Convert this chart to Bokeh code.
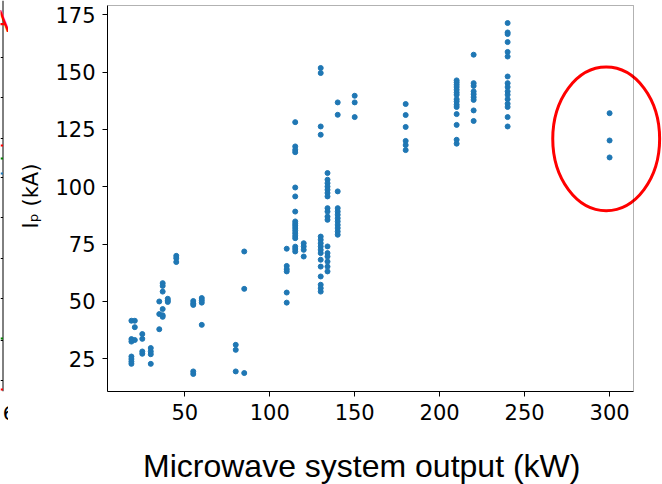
from bokeh.plotting import figure
from bokeh.models import Range1d, BoxAnnotation, FixedTicker, Div
from bokeh.layouts import row, column
from bokeh.embed import file_html
from bokeh.resources import INLINE

# ---- data ----
power_levels_kw = [18.6, 20.6, 25, 30, 35, 37, 40, 45, 55, 60, 80, 85, 110, 115,
                   120, 130, 134, 140, 150, 180, 210, 220, 240, 300]
ip_ka_by_level = [
    [41.6, 33.6, 32.5, 26.0, 24.9, 23.8, 22.8],
    [41.6, 38.8, 33.2],
    [35.8, 33.7, 28.2, 27.2],
    [29.7, 28.2, 27.0, 22.8],
    [50.0, 44.5, 37.9],
    [58.0, 56.8, 54.3, 46.7, 44.0, 43.3],
    [51.2, 50.4, 49.8],
    [69.9, 68.9, 67.2],
    [50.2, 49.2, 48.5, 19.5, 18.4],
    [51.5, 50.5, 49.5, 39.8],
    [31.1, 28.9, 19.5],
    [71.8, 55.5, 18.8],
    [73.0, 65.5, 64.1, 63.1, 53.9, 49.5],
    [128.2, 117.6, 116.1, 115.1, 99.7, 95.8, 89.2, 84.9, 83.9, 83.0, 82.0, 80.9,
     79.8, 78.6, 77.6, 73.9, 72.9, 71.8],
    [75.4, 74.0, 72.5, 69.6],
    [151.8, 149.6, 126.3, 122.7, 78.3, 76.9, 75.4, 74.0, 72.5, 71.1, 68.2, 65.2,
     60.9, 57.3, 55.8, 54.3],
    [106.0, 103.1, 101.6, 100.1, 98.7, 97.3, 95.8, 90.7, 89.2, 87.0, 85.6, 74.0,
     71.1, 69.6, 67.4, 65.2, 63.1],
    [136.8, 131.4, 98.0, 90.7, 89.2, 87.8, 86.3, 84.9, 83.4, 82.0, 80.5, 79.1],
    [139.7, 136.8, 130.4],
    [136.1, 131.3, 126.1, 120.0, 118.2, 116.0],
    [146.4, 145.5, 144.5, 143.5, 142.3, 141.1, 140.1, 138.2, 137.2, 135.8, 134.8,
     131.7, 127.0, 120.5, 118.8],
    [157.6, 145.2, 144.0, 141.6, 140.4, 139.1, 137.9, 133.3, 128.7],
    [171.4, 167.3, 166.6, 163.1, 158.8, 156.8, 148.1, 145.2, 143.5, 141.6, 140.1,
     138.2, 136.2, 134.8, 130.4, 126.3],
    [132.1, 120.2, 112.8],
]
x_ticks = [50, 100, 150, 200, 250, 300]
y_ticks = [25, 50, 75, 100, 125, 150, 175]
outlier_power_kw = 298.0
outlier_ip_ka = 120.9
caption = "Microwave system output (kW)"

power_kw = [p for p, vals in zip(power_levels_kw, ip_ka_by_level) for _ in vals]
ip_ka = [v for vals in ip_ka_by_level for v in vals]

# matplotlib-like 5% margins define the axes box
xmin, xmax = min(power_kw), max(power_kw)
ymin, ymax = min(ip_ka), max(ip_ka)
bx0, bx1 = xmin - 0.05 * (xmax - xmin), xmax + 0.05 * (xmax - xmin)
by0, by1 = ymin - 0.05 * (ymax - ymin), ymax + 0.05 * (ymax - ymin)

# pixel geometry of the box inside the page
box_left_px, box_right_px, box_top_px, box_bottom_px = 107, 633, 5, 391
page_w, page_h = 662, 484
plot_h = 440
left_strip = 8
sx = (box_right_px - box_left_px) / (bx1 - bx0)
sy = (box_bottom_px - box_top_px) / (by1 - by0)
x_end = bx1 + (page_w - box_right_px) / sx
y_end = by1 + box_top_px / sy

p = figure(width=page_w - left_strip, height=plot_h,
           x_range=Range1d(bx0, x_end), y_range=Range1d(by0, y_end),
           output_backend="svg", toolbar_location=None,
           min_border_left=box_left_px - left_strip, min_border_right=0,
           min_border_top=0, min_border_bottom=plot_h - box_bottom_px)
p.outline_line_color = None
p.grid.visible = False
p.background_fill_color = "white"
p.border_fill_color = "white"

p.scatter(power_kw, ip_ka, size=5, color="#1f77b4", line_color="#1f77b4")

p.add_layout(BoxAnnotation(left=bx0, right=bx1, bottom=by0, top=by1,
                           fill_alpha=0, line_color="black", line_width=1,
                           level="overlay"))

p.ellipse(x=[outlier_power_kw], y=[outlier_ip_ka], width=62.9, height=62.7,
          fill_alpha=0, line_color="red", line_width=3)

for ax, ticks, b in ((p.xaxis, x_ticks, (bx0, bx1)), (p.yaxis, y_ticks, (by0, by1))):
    ax.ticker = FixedTicker(ticks=ticks)
    ax.bounds = b
    ax.axis_line_color = "black"
    ax.major_tick_line_color = "black"
    ax.major_tick_out = 5
    ax.major_tick_in = 0
    ax.minor_tick_line_color = None
    ax.major_label_text_font = "DejaVu Sans"
    ax.major_label_text_font_size = "21px"
    ax.major_label_text_color = "black"
    ax.major_label_standoff = 7

p.yaxis.axis_label = "Iₚ (kA)"
p.yaxis.axis_label_text_font = "DejaVu Sans"
p.yaxis.axis_label_text_font_size = "21px"
p.yaxis.axis_label_text_font_style = "normal"
p.yaxis.axis_label_text_color = "black"
p.yaxis.axis_label_standoff = 9

# fragment of the neighbouring panel on the far left (its frame is aligned
# with the main frame by the row layout: 0..391 px)
lf = figure(width=left_strip, height=plot_h, x_range=Range1d(0, 8),
            y_range=Range1d(box_bottom_px, 0), output_backend="svg",
            toolbar_location=None, min_border=0, y_axis_type=None)
lf.outline_line_color = None
lf.grid.visible = False
lf.xaxis.ticker = FixedTicker(ticks=[4])
lf.xaxis.major_label_overrides = {4: "6"}
lf.xaxis.axis_line_color = None
lf.xaxis.major_tick_line_color = None
lf.xaxis.minor_tick_line_color = None
lf.xaxis.major_label_text_font = "DejaVu Sans"
lf.xaxis.major_label_text_font_size = "20px"
lf.xaxis.major_label_text_color = "black"
lf.xaxis.major_label_standoff = 8
lf.segment(x0=[2.5], y0=[0], x1=[2.5], y1=[391], line_color="black", line_width=1)
tick_y = [57, 97, 138, 177, 217, 258, 298, 340, 380]
lf.segment(x0=[0] * len(tick_y), y0=tick_y, x1=[2.5] * len(tick_y), y1=tick_y,
           line_color="black", line_width=1)
mark_y = [145, 158, 173, 338, 389]
mark_c = ["red", "green", "#1f77b4", "green", "red"]
lf.segment(x0=[0] * 5, y0=mark_y, x1=[2.5] * 5, y1=mark_y, line_color=mark_c,
           line_width=2)
lf.text(x=[-1], y=[20], text=["A"], text_align="center", text_baseline="middle",
        text_font_size="32px", text_color="red")

cap = Div(text=caption, width=page_w, height=page_h - plot_h, margin=0,
          styles={"font-family": "'Liberation Sans', Arial, sans-serif",
                  "font-size": "32px", "line-height": "36px", "color": "black",
                  "padding-left": "143px", "padding-top": "8px",
                  "white-space": "nowrap", "box-sizing": "border-box",
                  "background-color": "white"})

layout = column(row(lf, p, spacing=0), cap, spacing=0)
open("out.html", "w").write(file_html(layout, INLINE))
